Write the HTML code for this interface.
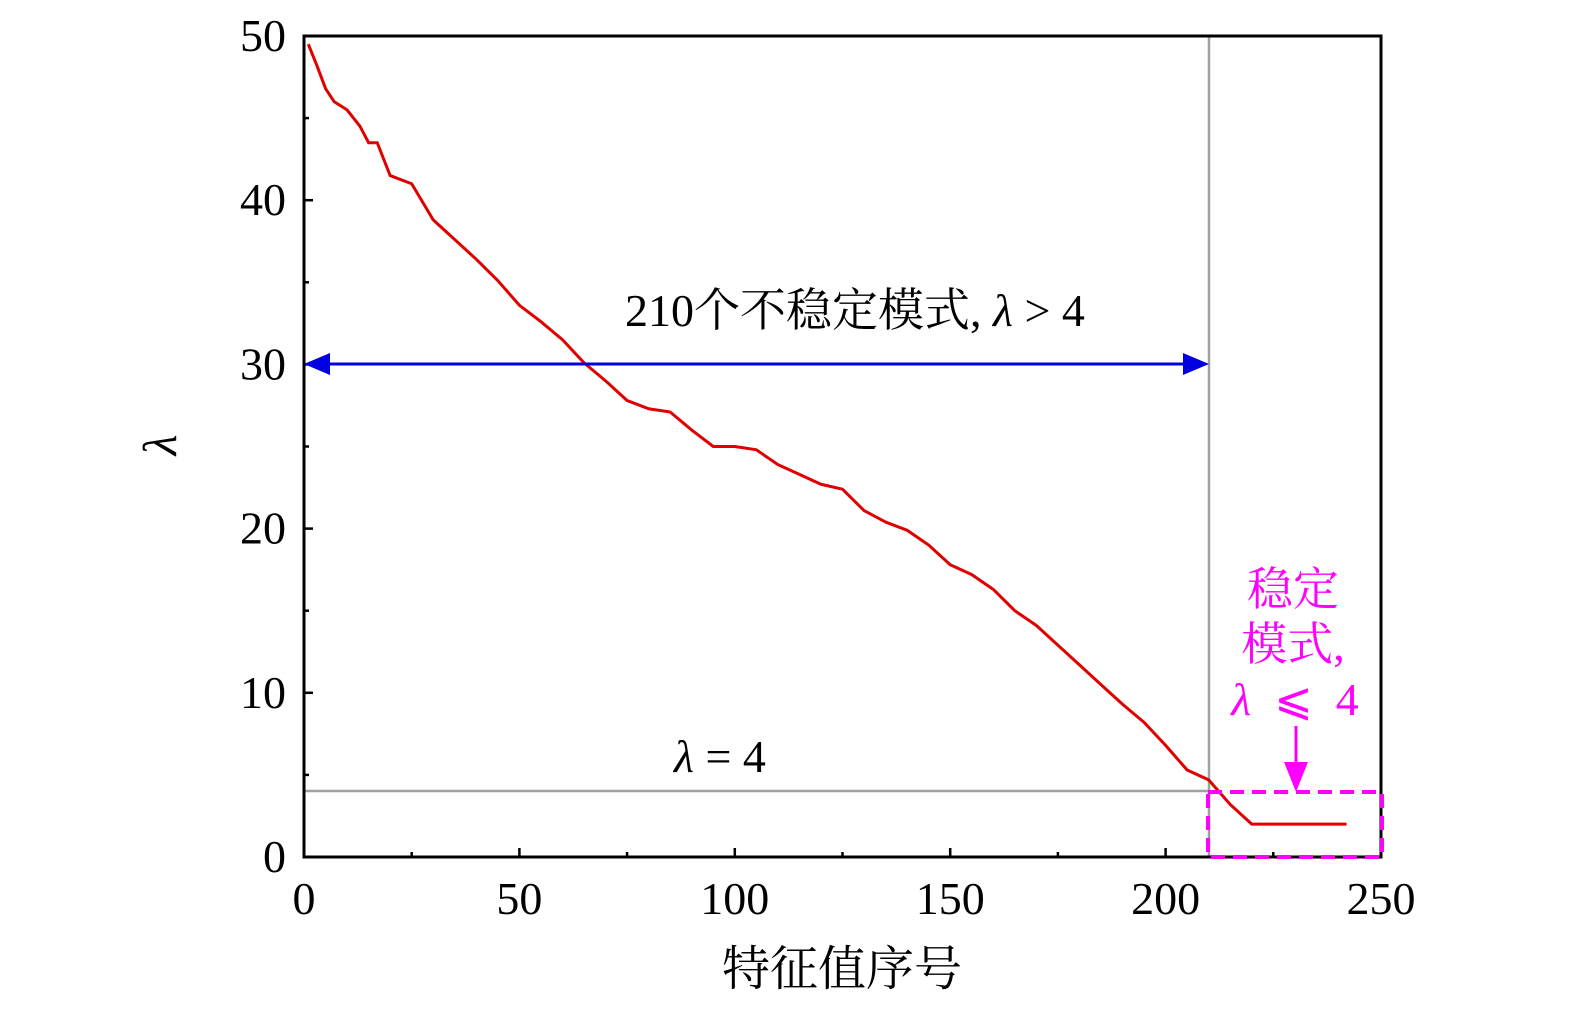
<!DOCTYPE html>
<html><head><meta charset="utf-8"><style>
body{margin:0;background:#fff}
svg text{font-family:"Liberation Serif","Noto Serif CJK SC",serif}
</style></head><body>
<svg id="chart" width="1575" height="1014" xmlns="http://www.w3.org/2000/svg">
<g id="ticks"></g>
<line x1="304" y1="791" x2="1209" y2="791" stroke="#a0a0a0" stroke-width="2.5"/>
<line x1="1209" y1="36" x2="1209" y2="857" stroke="#a0a0a0" stroke-width="2.5"/>
<polyline id="curve" fill="none" stroke="#e00000" stroke-width="3"/>
<rect x="304" y="36" width="1077" height="821" fill="none" stroke="#000" stroke-width="3"/>
<g>
<line x1="325" y1="364" x2="1188" y2="364" stroke="#0000e0" stroke-width="3"/>
<polygon points="304,364 330,353 330,375" fill="#0000e0"/>
<polygon points="1209,364 1183,353 1183,375" fill="#0000e0"/>
</g>
<rect x="1208" y="792" width="174" height="65" fill="none" stroke="#ff00ff" stroke-width="4" stroke-dasharray="14,8"/>
<g>
<line x1="1296" y1="726" x2="1296" y2="770" stroke="#ff00ff" stroke-width="3"/>
<polygon points="1296,792 1284,762 1308,762" fill="#ff00ff"/>
</g>
<text x="855" y="326" font-size="46" text-anchor="middle">210个不稳定模式, <tspan font-style="italic">λ</tspan> &gt; 4</text>
<text x="720" y="772" font-size="46" text-anchor="middle"><tspan font-style="italic">λ</tspan> = 4</text>
<g fill="#ff00ff" font-size="46" text-anchor="middle">
<text x="1293" y="605">稳定</text>
<text x="1293" y="660">模式,</text>
<text x="1295" y="715" xml:space="preserve"><tspan font-style="italic">λ</tspan>  ⩽  4</text>
</g>
<text x="842" y="985" font-size="48" text-anchor="middle">特征值序号</text>
<text transform="translate(176,445) rotate(-90)" font-size="48" font-style="italic" text-anchor="middle">λ</text>
</svg>
<script>
const xIndex=[1,3,5,7,10,13,15,17,20,23,25,30,35,40,45,50,55,60,65,70,75,80,85,90,95,100,105,110,115,120,125,130,135,140,145,150,155,160,165,170,175,180,185,190,195,200,205,210,215,220,242];
const lambdaValues=[49.5,48.2,46.8,46,45.5,44.5,43.5,43.5,41.5,41.2,41,38.8,37.6,36.4,35.1,33.6,32.6,31.5,30.1,29,27.8,27.3,27.1,26,25,25,24.8,23.9,23.3,22.7,22.4,21.1,20.4,19.9,19,17.8,17.2,16.3,15,14.1,12.9,11.7,10.5,9.3,8.2,6.8,5.3,4.7,3.2,2,2];
const xTicks=[0,50,100,150,200,250];
const yTicks=[0,10,20,30,40,50];
const X=v=>304+v*(1077/250);
const Y=v=>857-v*(821/50);
const NS='http://www.w3.org/2000/svg';
const g=document.getElementById('ticks');
function ln(x1,y1,x2,y2){const l=document.createElementNS(NS,'line');l.setAttribute('x1',x1);l.setAttribute('y1',y1);l.setAttribute('x2',x2);l.setAttribute('y2',y2);l.setAttribute('stroke','#000');l.setAttribute('stroke-width','2.5');


g.appendChild(l);}
function tx(x,y,s,a){const t=document.createElementNS(NS,'text');t.setAttribute('x',x);t.setAttribute('y',y);t.setAttribute('font-size','46');t.setAttribute('text-anchor',a);t.textContent=s;


g.appendChild(t);}
for(let i=0;i<xTicks.length;i++){const v=xTicks[i];ln(X(v),857,X(v),848);tx(X(v),914,String(v),'middle');if(i<xTicks.length-1){const m=v+25;ln(X(m),857,X(m),852);}}
for(let i=0;i<yTicks.length;i++){const v=yTicks[i];ln(304,Y(v),313,Y(v));tx(286,Y(v)+15,String(v),'end');if(i<yTicks.length-1){const m=v+5;ln(304,Y(m),309,Y(m));}}
document.getElementById('curve').setAttribute('points',xIndex.map((x,i)=>X(x)+','+Y(lambdaValues[i])).join(' '));
</script>
</body></html>
